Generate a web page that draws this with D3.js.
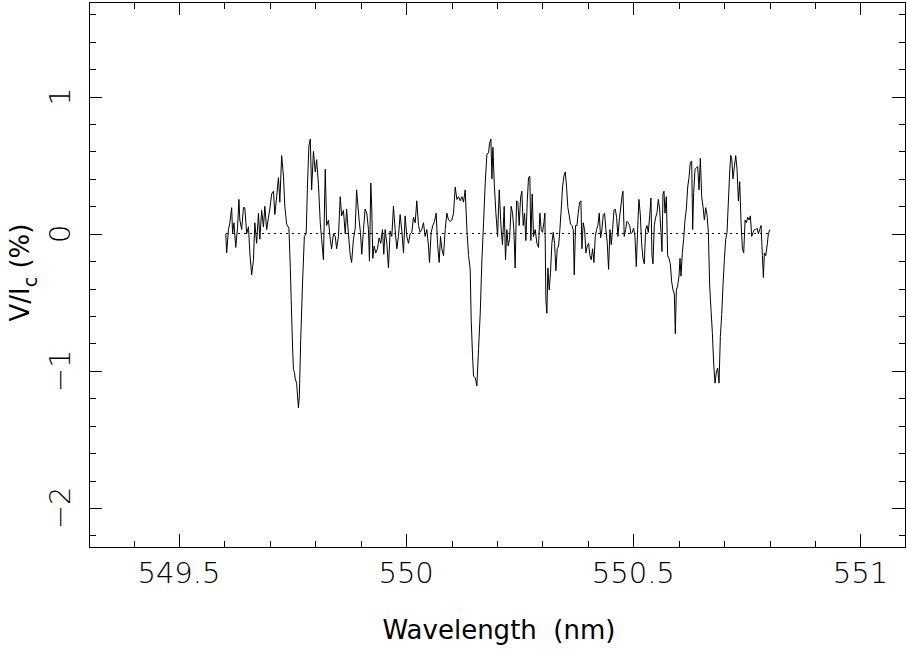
<!DOCTYPE html>
<html>
<head>
<meta charset="utf-8">
<script src="https://cdn.jsdelivr.net/npm/d3@7"></script>
<style>
  html, body { margin: 0; padding: 0; background: #fff; }
  svg { display: block; }
  .ticklab { font-family: "DejaVu Sans", sans-serif; font-weight: 200; font-size: 29px; fill: #000; }
  .title { font-family: "DejaVu Sans", sans-serif; font-size: 26px; fill: #000; }
</style>
</head>
<body>
<svg id="chart" width="907" height="650"></svg>
<script>
// ---- data ----
const wavelength = [
  549.603, 549.605, 549.609, 549.612, 549.616, 549.618, 549.621, 549.625, 549.629, 549.632,
  549.634, 549.638, 549.642, 549.645, 549.649, 549.653, 549.656, 549.660, 549.664, 549.667,
  549.671, 549.675, 549.678, 549.682, 549.686, 549.689, 549.693, 549.697, 549.700, 549.704,
  549.708, 549.711, 549.715, 549.719, 549.722, 549.726, 549.730, 549.733, 549.737, 549.742,
  549.745, 549.747, 549.750, 549.752, 549.754, 549.756, 549.759, 549.763, 549.765, 549.768,
  549.772, 549.776, 549.780, 549.783, 549.786, 549.789, 549.792, 549.796, 549.800, 549.803,
  549.807, 549.811, 549.814, 549.818, 549.822, 549.825, 549.829, 549.833, 549.836, 549.840,
  549.844, 549.847, 549.851, 549.855, 549.858, 549.862, 549.866, 549.869, 549.873, 549.877,
  549.880, 549.884, 549.888, 549.891,
  549.8965, 549.8994, 549.9024, 549.9061, 549.9097, 549.9134, 549.9171, 549.9193, 549.9222, 549.9244,
  549.9266, 549.9295, 549.9332, 549.9369, 549.9406, 549.9442, 549.9479, 549.9508, 549.9538, 549.9575,
  549.9611, 549.9648, 549.9685, 549.9721, 549.9758, 549.9795, 549.9831, 549.9868, 549.9905, 549.9942,
  549.9978, 550.0015, 550.0052, 550.0088, 550.0125, 550.0162, 550.0199, 550.0235, 550.0272, 550.0309,
  550.0345, 550.0382, 550.0419, 550.0456, 550.0492, 550.0514, 550.0551, 550.0588, 550.0625, 550.0661,
  550.0691, 550.0727, 550.0757, 550.0786, 550.0823, 550.0860, 550.0896, 550.0933, 550.0970, 550.1006,
  550.1043, 550.1080, 550.1117, 550.1153, 550.1190, 550.1227, 550.1263, 550.1300, 550.1337, 550.1374,
  550.1410, 550.1432, 550.1462, 550.1484, 550.1521, 550.1557, 550.1594, 550.1631, 550.1667, 550.1704,
  550.1741, 550.1778, 550.1814, 550.1836, 550.1866, 550.1888, 550.1910, 550.1939, 550.1976, 550.2013,
  550.2049,
  550.2092, 550.2121, 550.2158, 550.2187, 550.2217, 550.2246, 550.2276, 550.2312, 550.2342, 550.2371,
  550.2400, 550.2430, 550.2459, 550.2488, 550.2518, 550.2547, 550.2577, 550.2606, 550.2635, 550.2665,
  550.2694, 550.2723, 550.2745, 550.2775, 550.2804, 550.2841, 550.2878, 550.2914, 550.2944, 550.2973,
  550.3002, 550.3032, 550.3054, 550.3076, 550.3098, 550.3120, 550.3149, 550.3179, 550.3208, 550.3237,
  550.3267, 550.3296, 550.3326, 550.3355, 550.3384, 550.3414, 550.3443, 550.3472, 550.3502, 550.3531,
  550.3560, 550.3590, 550.3619, 550.3649, 550.3678, 550.3700, 550.3729, 550.3759, 550.3788, 550.3817,
  550.3847, 550.3869, 550.3898, 550.3928, 550.3957, 550.3986, 550.4016, 550.4045, 550.4074, 550.4104,
  550.4133, 550.4163, 550.4192, 550.4221, 550.4251, 550.4280, 550.4309, 550.4339, 550.4368, 550.4397,
  550.4427, 550.4456, 550.4486, 550.4515, 550.4544, 550.4574, 550.4603, 550.4632, 550.4662, 550.4691,
  550.4720, 550.4750, 550.4772, 550.4801, 550.4831, 550.4860, 550.4889, 550.4919, 550.4948, 550.4977,
  550.5007, 550.5036, 550.5066, 550.5095, 550.5124, 550.5154, 550.5183, 550.5213, 550.5242,
  550.5271, 550.5301, 550.5330, 550.5360, 550.5389, 550.5411, 550.5433, 550.5462, 550.5492, 550.5521,
  550.5550, 550.5580, 550.5609, 550.5631, 550.5653, 550.5675, 550.5697, 550.5727, 550.5756, 550.5785,
  550.5815, 550.5844, 550.5874, 550.5903, 550.5925, 550.5947, 550.5976, 550.6006, 550.6028, 550.6050,
  550.6079, 550.6108, 550.6138, 550.6167, 550.6197, 550.6226, 550.6255, 550.6285, 550.6307, 550.6329,
  550.6358, 550.6387, 550.6417, 550.6446, 550.6476, 550.6505, 550.6534, 550.6564, 550.6593, 550.6622,
  550.6652, 550.6681, 550.6711, 550.6740, 550.6769, 550.6799, 550.6828, 550.6857, 550.6887, 550.6916,
  550.6946, 550.6975, 550.7004, 550.7034, 550.7063, 550.7092, 550.7122, 550.7144, 550.7166, 550.7195,
  550.7225, 550.7254, 550.7283, 550.7313, 550.7342, 550.7372, 550.7401, 550.7430, 550.7460, 550.7489,
  550.7518, 550.7548, 550.7577, 550.7606, 550.7636, 550.7665, 550.7694, 550.7724, 550.7753, 550.7782,
  550.7812, 550.7841, 550.7863, 550.7885, 550.7915, 550.7944, 550.7973, 550.8003
];

const stokesV = [
  0, -0.14, 0.03, 0.08, 0.19, 0, 0.08, -0.10, 0.05, 0.25,
  0.10, 0.03, 0.19, 0.19, 0, 0.05, -0.14, -0.30, -0.19, 0.08,
  -0.07, 0.15, -0.04, 0.17, 0.05, 0.20, 0.03, 0.12, 0.18, 0.29,
  0.31, 0.14, 0.27, 0.41, 0.23, 0.57, 0.42, 0.20, 0.07, 0.04,
  -0.24, -0.48, -0.82, -0.99, -1.01, -1.06, -1.09, -1.27, -1.18, -0.77,
  -0.36, -0.02, 0, 0.37, 0.64, 0.69, 0.32, 0.60, 0.45, 0.54,
  0.36, 0.08, -0.04, -0.19, 0.47, 0.06, 0.10, -0.04, -0.11, 0,
  -0.02, -0.11, -0.02, 0.27, 0.13, 0.17, 0, 0.18, 0, -0.16,
  -0.21, -0.04, 0.04, 0.32,
  0.10, 0.01, -0.15, 0.03, 0.18, 0.15, 0.03, -0.20, 0.37, 0.18,
  -0.18, -0.09, -0.14, -0.11, -0.03, -0.07, 0.03, -0.15, 0.03, -0.07,
  -0.25, 0.02, -0.02, 0.20, 0.03, -0.11, -0.02, 0.14, 0.02, -0.14,
  0.13, -0.02, -0.07, 0, 0.01, 0.12, 0.08, 0.24, 0.06, 0.01,
  0.03, 0.08, -0.02, 0.03, -0.09, -0.21, 0.01, 0.06, 0.09, 0.15,
  -0.07, -0.21, -0.02, -0.11, -0.16, 0.03, 0.15, 0.10, 0.09, 0.10,
  0.15, 0.34, 0.25, 0.27, 0.24, 0.27, 0.23, 0.32, 0.03, -0.16,
  -0.26, -0.63, -0.89, -1.04, -1.05, -1.11, -0.84, -0.58, -0.20, 0.08,
  0.37, 0.58, 0.59, 0.66, 0.69, 0.40, 0.63, 0.37, 0.15, -0.02,
  0.32,
  0.03, -0.08, 0.20, -0.19, 0.03, -0.09, -0.04, 0.20, 0.15, 0.03,
  -0.25, 0.24, 0.23, 0.06, 0.26, 0.31, 0.06, 0.15, -0.05, 0.23,
  0.41, 0.42, -0.05, 0.29, -0.02, 0.03, -0.07, -0.10, 0.15, 0.03,
  0.01, 0.08, 0.15, -0.48, -0.58, -0.25, -0.41, -0.28, -0.07, 0.01,
  -0.07, -0.27, -0.11, -0.09, 0.03, 0.18, 0.34, 0.42, 0.45, 0.34,
  0.19, 0.13, 0.07, 0.06, 0.03, -0.30, 0.06, 0.06, 0.15, 0.23,
  0.24, -0.11, 0.08, 0.03, -0.14, -0.09, -0.07, -0.16, -0.19, -0.11,
  -0.21, -0.02, 0.03, 0.06, 0.15, -0.03, 0.03, 0.14, 0.15, 0.03,
  -0.07, -0.26, 0.03, -0.08, 0.03, 0.17, 0.18, 0.12, -0.02, 0.10,
  0.18, 0.27, 0.31, -0.02, 0.03, 0.09, 0.08, 0.06, 0, 0.01,
  0.04, -0.02, -0.24, 0.03, 0.25, 0.14, -0.07, -0.18, -0.22,
  0.03, 0.06, 0.01, 0.13, 0.26, -0.16, -0.22, 0.06, 0.12, 0.15,
  0.25, 0.18, 0.01, -0.13, 0.29, 0.31, 0.15, 0.27, -0.16, -0.18,
  -0.22, -0.35, -0.41, -0.44, -0.73, -0.41, -0.38, -0.31, -0.18, -0.31,
  -0.14, -0.04, 0.10, 0.18, 0.34, 0.41, 0.52, 0.53, 0.03, 0.30,
  0.47, 0.48, 0.49, 0.32, 0.55, 0.27, 0.20, 0.10, 0.19, 0.14,
  0.01, -0.38, -0.56, -0.72, -0.95, -1.09, -1.01, -0.98, -1.09, -0.75,
  -0.59, -0.37, -0.19, -0.04, 0.01, 0.23, 0.45, 0.57, 0.55, 0.40,
  0.49, 0.57, 0.47, 0.24, 0.38, 0.08, -0.11, -0.14, 0.10, 0.08,
  0.12, 0.10, 0.13, -0.02, 0.01, 0.03, 0.03, 0.04, 0, 0.03,
  0.06, -0.16, -0.32, -0.14, -0.16, -0.09, 0, 0.03
];

const xDomain = [549.302, 551.098];
const yDomain = [-2.285, 1.69];
const xMajorTicks = [549.5, 550, 550.5, 551];
const xTickLabels = ["549.5", "550", "550.5", "551"];
const yMajorTicks = [-2, -1, 0, 1];
const yTickLabels = ["\u22122", "\u22121", "0", "1"];
const xTitle = "Wavelength  (nm)";

// ---- drawing ----
(function () {
  const padL = 89, padR = 905, padT = 2, padB = 547;
  const svg = d3.select("#chart");

  const x = d3.scaleLinear().domain(xDomain).range([padL, padR]);
  const y = d3.scaleLinear().domain(yDomain).range([padB, padT]);

  const xMinor = x.ticks(20).filter(v => !xMajorTicks.some(m => Math.abs(m - v) < 1e-6));
  const yMinor = y.ticks(20).filter(v => !yMajorTicks.some(m => Math.abs(m - v) < 1e-6));

  const MAJ = 13, MIN = 6.5;

  function axisGroup(gen, tr) {
    const g = svg.append("g").attr("transform", tr).call(gen);
    g.select(".domain").remove();
    g.selectAll("line").attr("stroke", "#000").attr("stroke-width", 1).attr("shape-rendering", "crispEdges");
    g.selectAll("text").remove();
    return g;
  }
  axisGroup(d3.axisBottom(x).tickValues(xMajorTicks).tickSize(-MAJ).tickFormat(""), `translate(0,${padB})`);
  axisGroup(d3.axisBottom(x).tickValues(xMinor).tickSize(-MIN).tickFormat(""), `translate(0,${padB})`);
  axisGroup(d3.axisTop(x).tickValues(xMajorTicks).tickSize(-MAJ).tickFormat(""), `translate(0,${padT})`);
  axisGroup(d3.axisTop(x).tickValues(xMinor).tickSize(-MIN).tickFormat(""), `translate(0,${padT})`);
  axisGroup(d3.axisLeft(y).tickValues(yMajorTicks).tickSize(-MAJ).tickFormat(""), `translate(${padL},0)`);
  axisGroup(d3.axisLeft(y).tickValues(yMinor).tickSize(-MIN).tickFormat(""), `translate(${padL},0)`);
  axisGroup(d3.axisRight(y).tickValues(yMajorTicks).tickSize(-MAJ).tickFormat(""), `translate(${padR},0)`);
  axisGroup(d3.axisRight(y).tickValues(yMinor).tickSize(-MIN).tickFormat(""), `translate(${padR},0)`);

  svg.append("rect")
    .attr("x", padL + 0.5).attr("y", padT + 0.5)
    .attr("width", padR - padL).attr("height", padB - padT)
    .attr("fill", "none").attr("stroke", "#000").attr("stroke-width", 1)
    .attr("shape-rendering", "crispEdges");

  svg.append("g").selectAll("text").data(xMajorTicks).join("text")
    .attr("class", "ticklab")
    .attr("x", d => x(d)).attr("y", 583)
    .attr("text-anchor", "middle")
    .text((d, i) => xTickLabels[i]);

  svg.append("g").selectAll("text").data(yMajorTicks).join("text")
    .attr("class", "ticklab")
    .attr("transform", d => `translate(70,${y(d)}) rotate(-90)`)
    .attr("text-anchor", "middle")
    .text((d, i) => yTickLabels[i]);

  svg.append("text").attr("class", "title")
    .attr("x", (padL + padR) / 2 + 2).attr("y", 639)
    .attr("text-anchor", "middle")
    .style("white-space", "pre")
    .text(xTitle);

  const yt = svg.append("text").attr("class", "title")
    .attr("transform", `translate(29,${(padT + padB) / 2 - 2}) rotate(-90)`)
    .attr("text-anchor", "middle");
  yt.append("tspan").text("V/I");
  yt.append("tspan").attr("font-size", "19px").attr("dy", 8).text("c");
  yt.append("tspan").attr("dy", -8).text(" (%)");

  svg.append("line")
    .attr("x1", x(d3.min(wavelength))).attr("x2", x(d3.max(wavelength)))
    .attr("y1", y(0)).attr("y2", y(0))
    .attr("stroke", "#000").attr("stroke-width", 1)
    .attr("stroke-dasharray", "2,4")
    .attr("shape-rendering", "crispEdges");

  const pts = wavelength.map((w, i) => [w, stokesV[i]]);
  svg.append("path")
    .datum(pts)
    .attr("fill", "none")
    .attr("stroke", "#000")
    .attr("stroke-width", 1)
    .attr("d", d3.line().x(d => x(d[0])).y(d => y(d[1])));
})();
</script>
</body>
</html>
